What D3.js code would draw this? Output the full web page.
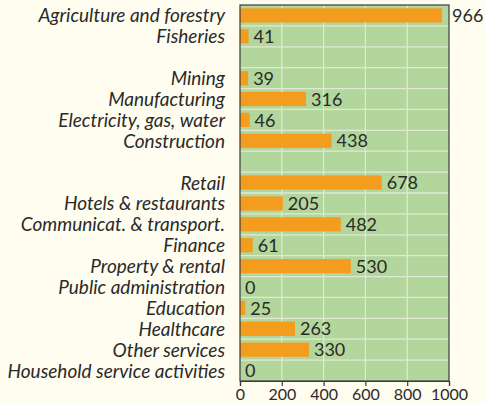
<!DOCTYPE html>
<html>
<head>
<meta charset="utf-8">
<script src="https://d3js.org/d3.v7.min.js"></script>
<style>
  body { margin: 0; background: #fffdf0; }
  svg { display: block; }
</style>
</head>
<body>
<script>
  // sector names, "" = empty spacer row
  const sectors = [
    "Agriculture and forestry", "Fisheries", "",
    "Mining", "Manufacturing", "Electricity, gas, water", "Construction", "",
    "Retail", "Hotels & restaurants", "Communicat. & transport.", "Finance",
    "Property & rental", "Public administration", "Education", "Healthcare",
    "Other services", "Household service activities"
  ];
  const values = [966, 41, null, 39, 316, 46, 438, null, 678, 205, 482, 61, 530, 0, 25, 263, 330, 0];
  const xTicks = [0, 200, 400, 600, 800, 1000];

  const width = 485, height = 403;
  const margin = {top: 5, right: 36, bottom: 22, left: 240};
  const font = "Lato, 'Open Sans', sans-serif";

  const svg = d3.select("body").append("svg")
      .attr("width", width)
      .attr("height", height);

  const x = d3.scaleLinear().domain([0, 1000]).range([margin.left, width - margin.right]);
  const y = d3.scaleBand()
      .domain(sectors.map((d, i) => i))
      .range([margin.top, height - margin.bottom])
      .paddingInner(0.32).paddingOuter(0.16);

  // plot background
  svg.append("rect")
      .attr("x", x(0)).attr("y", margin.top)
      .attr("width", x(1000) - x(0))
      .attr("height", height - margin.bottom - margin.top)
      .attr("fill", "#b2d69b");

  // grid
  const step = y.step();
  const rowEdges = d3.range(1, sectors.length).map(i => y(i) - step * y.paddingInner() / 2);
  svg.append("g").selectAll("line").data(rowEdges).enter().append("line")
      .attr("x1", x(0)).attr("x2", x(1000))
      .attr("y1", d => d).attr("y2", d => d)
      .attr("stroke", "#dfe9d6").attr("stroke-width", 1.3);
  svg.append("g").selectAll("line").data(xTicks.slice(1, -1)).enter().append("line")
      .attr("x1", d => x(d)).attr("x2", d => x(d))
      .attr("y1", margin.top).attr("y2", height - margin.bottom)
      .attr("stroke", "#dfe9d6").attr("stroke-width", 1.3);

  // bars
  const rows = sectors.map((s, i) => ({s, v: values[i], i})).filter(d => d.v !== null);
  svg.append("g").selectAll("rect").data(rows).enter().append("rect")
      .attr("x", x(0))
      .attr("y", d => y(d.i))
      .attr("width", d => x(d.v) - x(0))
      .attr("height", y.bandwidth())
      .attr("fill", "#f39c1e");

  // frame
  svg.append("rect")
      .attr("x", x(0)).attr("y", margin.top)
      .attr("width", x(1000) - x(0))
      .attr("height", height - margin.bottom - margin.top)
      .attr("fill", "none")
      .attr("stroke", "#3a3a3a").attr("stroke-width", 1.2);

  // value labels
  svg.append("g").selectAll("text").data(rows).enter().append("text")
      .attr("x", d => {
        const px = x(d.v) + 5;
        return px > x(1000) - 10 ? x(1000) + 3 : px;
      })
      .attr("y", d => y(d.i) + y.bandwidth() / 2)
      .attr("dy", "0.37em")
      .attr("font-family", font)
      .attr("font-size", 18)
      .attr("fill", "#2a2a2a")
      .text(d => d.v);

  // category labels
  svg.append("g").selectAll("text").data(rows).enter().append("text")
      .attr("x", 225)
      .attr("y", d => y(d.i) + y.bandwidth() / 2)
      .attr("dy", "0.37em")
      .attr("text-anchor", "end")
      .attr("font-family", font)
      .attr("font-style", "italic")
      .attr("font-size", 19)
      .attr("fill", "#2a2a2a")
      .text(d => d.s);

  // x axis
  const xAxis = svg.append("g")
      .attr("transform", `translate(0,${height - margin.bottom})`)
      .call(d3.axisBottom(x).tickValues(xTicks).tickSize(5).tickPadding(3).tickFormat(d3.format("d")));
  xAxis.select(".domain").attr("stroke", "#3a3a3a").attr("stroke-width", 1.2);
  xAxis.selectAll(".tick line").attr("stroke", "#3a3a3a").attr("stroke-width", 1.2);
  xAxis.selectAll(".tick text")
      .attr("font-family", font)
      .attr("font-size", 16)
      .attr("fill", "#2a2a2a");
</script>
</body>
</html>
